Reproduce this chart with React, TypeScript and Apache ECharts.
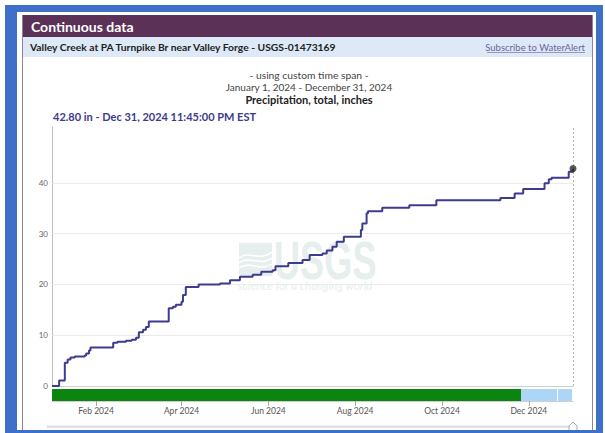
import React, { useEffect, useRef } from "react";
import * as echarts from "echarts";

// ---- data ----
const stepDates = [
  "2024-01-01", "2024-01-06", "2024-01-10", "2024-01-12", "2024-01-14", "2024-01-17",
  "2024-01-24", "2024-01-25", "2024-01-27", "2024-01-28", "2024-02-13", "2024-02-16",
  "2024-02-22", "2024-02-26", "2024-02-29", "2024-03-02", "2024-03-05", "2024-03-07",
  "2024-03-09", "2024-03-23", "2024-03-26", "2024-03-28", "2024-04-01", "2024-04-02",
  "2024-04-04", "2024-04-13", "2024-04-28", "2024-05-05", "2024-05-12", "2024-05-21",
  "2024-05-27", "2024-06-04", "2024-06-06", "2024-06-15", "2024-06-25", "2024-06-30",
  "2024-07-09", "2024-07-12", "2024-07-16", "2024-07-19", "2024-07-24", "2024-08-05",
  "2024-08-06", "2024-08-09", "2024-08-10", "2024-08-20", "2024-09-08", "2024-09-27",
  "2024-11-11", "2024-11-21", "2024-11-27", "2024-12-12", "2024-12-15", "2024-12-17",
  "2024-12-29", "2024-12-31 23:45",
];
const stepTotals = [
  0, 1.1, 4.6, 5.2, 5.6, 5.8,
  6.0, 6.4, 7.0, 7.6, 8.5, 8.7,
  8.9, 9.1, 9.5, 10.6, 11.1, 11.6,
  12.7, 15.3, 15.6, 16.0, 16.6, 17.9,
  19.5, 20.0, 20.2, 20.8, 21.5, 21.9,
  22.5, 22.8, 23.6, 24.2, 24.8, 25.8,
  26.1, 26.7, 27.4, 28.4, 29.4, 30.7,
  32.0, 34.0, 34.4, 35.1, 35.6, 36.6,
  37.0, 37.9, 38.8, 39.9, 40.7, 41.0,
  42.2, 42.8,
];
const yTickValues = [0, 10, 20, 30, 40];
const xTickDates = ["2024-02-01", "2024-04-01", "2024-06-01", "2024-08-01", "2024-10-01", "2024-12-01"];
const xTickLabels = ["Feb 2024", "Apr 2024", "Jun 2024", "Aug 2024", "Oct 2024", "Dec 2024"];
const approvalStarts = ["2024-01-01", "2024-11-25 12:00", "2024-12-21 12:00"];
const approvalEnds = ["2024-11-25 12:00", "2024-12-21 12:00", "2025-01-01"];
const approvalStatus = ["Approved", "Provisional", "Provisional"];
const rangeStart = "2024-01-01";
const rangeEnd = "2025-01-01";

const toTs = (s: string) => {
  const [d, t] = s.split(" ");
  const [y, m, dd] = d.split("-").map(Number);
  const [hh, mi] = t ? t.split(":").map(Number) : [0, 0];
  return new Date(y, m - 1, dd, hh, mi).getTime();
};

const FONT = "Lato, 'Open Sans', sans-serif";
const WM = "#e6efed";

export default function App() {
  const ref = useRef<HTMLDivElement>(null);
  useEffect(() => {
    if (!ref.current) return;
    const chart = echarts.init(ref.current, null, { renderer: "svg" });
    const lineData = stepDates.map((d, i) => [toTs(d), stepTotals[i]]);
    const last = lineData[lineData.length - 1];
    const tickTs = xTickDates.map(toTs);
    const segData = approvalStarts.map((s, i) => [toTs(s), toTs(approvalEnds[i]), approvalStatus[i]]);

    const option: any = {
      animation: false,
      backgroundColor: "#ffffff",
      textStyle: { fontFamily: FONT },
      grid: [
        { left: 52, right: 32, top: 127, height: 259, containLabel: false },
        { left: 52, right: 32, top: 389, height: 12, containLabel: false },
      ],
      xAxis: [
        {
          type: "value", gridIndex: 0, min: toTs(rangeStart), max: toTs(rangeEnd),
          axisLine: { show: true, lineStyle: { color: "#cfcfcf", width: 1 } },
          axisTick: { show: false }, axisLabel: { show: false }, splitLine: { show: false },
        },
        {
          type: "value", gridIndex: 1, min: toTs(rangeStart), max: toTs(rangeEnd),
          axisLine: { show: true, lineStyle: { color: "#cfcfcf", width: 1 } },
          axisTick: { show: true, length: 5, lineStyle: { color: "#aaa" }, customValues: tickTs },
          axisLabel: {
            show: true, customValues: tickTs, fontSize: 8.5, color: "#555", margin: 5, fontFamily: FONT,
            formatter: (v: number) => {
              const i = tickTs.findIndex((t) => Math.abs(t - v) < 86400000);
              return i >= 0 ? xTickLabels[i] : "";
            },
          },
          splitLine: { show: false },
        },
      ],
      yAxis: [
        {
          type: "value", gridIndex: 0, min: 0, max: 51,
          axisLine: { show: true, lineStyle: { color: "#bdbdbd", width: 1 } },
          axisTick: { show: false },
          axisLabel: { show: true, customValues: yTickValues, fontSize: 8, color: "#666", margin: 4, fontFamily: FONT },
          splitLine: { show: false },
        },
        {
          type: "value", gridIndex: 1, min: 0, max: 1, show: false,
        },
      ],
      series: [
        {
          type: "line", xAxisIndex: 0, yAxisIndex: 0, step: "end", symbol: "none", z: 3,
          data: lineData,
          lineStyle: { color: "#3d3b8e", width: 2 },
          markLine: {
            silent: true, symbol: ["none", "none"], label: { show: false }, z: 1,
            data: [
              ...yTickValues.filter((v) => v > 0).map((v) => ({
                yAxis: v, lineStyle: { color: "#ebebeb", type: "solid", width: 1 },
              })),
              { xAxis: last[0], lineStyle: { color: "#b5b5b5", type: [2, 2], width: 1 } },
            ],
          },
        },
        {
          type: "scatter", xAxisIndex: 0, yAxisIndex: 0, z: 4,
          data: [last], symbol: "circle", symbolSize: 7,
          itemStyle: { color: "#2b2b2b" },
        },
        {
          type: "custom", xAxisIndex: 1, yAxisIndex: 1,
          data: segData,
          encode: { x: [0, 1] },
          renderItem: (params: any, api: any) => {
            const a = api.coord([api.value(0), 1]);
            const b = api.coord([api.value(1), 0]);
            const status = segData[params.dataIndex][2];
            const approved = status === "Approved";
            return {
              type: "rect",
              shape: { x: a[0], y: a[1], width: b[0] - a[0] - (approved ? 0 : 1), height: b[1] - a[1] },
              style: { fill: approved ? "#0b850f" : "#acd5f6" },
            };
          },
        },
      ],
      graphic: [
        { type: "rect", z: 10, shape: { x: 22, y: 15, width: 571, height: 22 }, style: { fill: "#5c3157" } },
        { type: "rect", z: 10, shape: { x: 22, y: 37, width: 571, height: 20 }, style: { fill: "#dde9f6" } },
        { type: "line", z: 10, shape: { x1: 22.5, y1: 15, x2: 22.5, y2: 433 }, style: { stroke: "#8f8496", lineWidth: 1 } },
        { type: "line", z: 10, shape: { x1: 592.5, y1: 15, x2: 592.5, y2: 433 }, style: { stroke: "#8f8496", lineWidth: 1 } },
        { type: "text", z: 11, x: 31, y: 26, style: { text: "Continuous data", fill: "#ffffff", font: `bold 14px ${FONT}`, textVerticalAlign: "middle" } },
        { type: "text", z: 11, x: 30, y: 47, style: { text: "Valley Creek at PA Turnpike Br near Valley Forge - USGS-01473169", fill: "#222", font: `bold 10.3px ${FONT}`, textVerticalAlign: "middle" } },
        { type: "text", z: 11, x: 585, y: 47, style: { text: "Subscribe to WaterAlert", fill: "#6f5fa0", font: `9.5px ${FONT}`, textAlign: "right", textVerticalAlign: "middle" } },
        { type: "line", z: 11, shape: { x1: 487, y1: 52.5, x2: 585, y2: 52.5 }, style: { stroke: "#8a7cb5", lineWidth: 0.8 } },
        { type: "text", z: 11, x: 309, y: 75, style: { text: "- using custom time span -", fill: "#444", font: `10.3px ${FONT}`, textAlign: "center", textVerticalAlign: "middle" } },
        { type: "text", z: 11, x: 309, y: 87, style: { text: "January 1, 2024 - December 31, 2024", fill: "#444", font: `10px ${FONT}`, textAlign: "center", textVerticalAlign: "middle" } },
        { type: "text", z: 11, x: 309, y: 99, style: { text: "Precipitation, total, inches", fill: "#222", font: `bold 11px ${FONT}`, textAlign: "center", textVerticalAlign: "middle" } },
        { type: "text", z: 11, x: 53, y: 116, style: { text: "42.80 in - Dec 31, 2024 11:45:00 PM EST", fill: "#3d3b8e", font: `bold 11px ${FONT}`, textVerticalAlign: "middle" } },
        { type: "rect", z: 0, shape: { x: 239, y: 243, width: 33, height: 33 }, style: { fill: WM } },
        { type: "bezierCurve", z: 0, shape: { x1: 239, y1: 258, x2: 272, y2: 252, cpx1: 250, cpy1: 250, cpx2: 260, cpy2: 262 }, style: { stroke: "#fff", lineWidth: 1.5, fill: null } },
        { type: "bezierCurve", z: 0, shape: { x1: 239, y1: 263, x2: 272, y2: 258, cpx1: 250, cpy1: 255, cpx2: 260, cpy2: 267 }, style: { stroke: "#fff", lineWidth: 1.5, fill: null } },
        { type: "bezierCurve", z: 0, shape: { x1: 239, y1: 268, x2: 272, y2: 264, cpx1: 250, cpy1: 260, cpx2: 260, cpy2: 272 }, style: { stroke: "#fff", lineWidth: 1.5, fill: null } },
        {
          type: "group", x: 274, y: 260, scaleX: 0.67, z: 0,
          children: [
            { type: "text", z: 0, x: 0, y: 0, style: { text: "USGS", fill: WM, font: `bold 54px 'Liberation Sans', sans-serif`, textVerticalAlign: "middle" } },
          ],
        },
        { type: "text", z: 0, x: 238, y: 285, style: { text: "science for a changing world", fill: WM, font: `italic 11.5px ${FONT}`, textVerticalAlign: "middle" } },
        { type: "rect", z: 10, shape: { x: 47, y: 425.5, width: 526, height: 2.5 }, style: { fill: "#e0e0e0" } },
        { type: "polygon", z: 11, shape: { points: [[569, 432], [569, 426], [573, 422], [577, 426], [577, 432]] }, style: { fill: "#fff", stroke: "#aaa", lineWidth: 1 } },
        { type: "rect", z: 100, shape: { x: 6, y: 5, width: 597, height: 7 }, style: { fill: "#3f70c9" } },
        { type: "rect", z: 100, shape: { x: 5, y: 5, width: 12, height: 428 }, style: { fill: "#3f70c9" } },
        { type: "rect", z: 100, shape: { x: 596, y: 5, width: 7, height: 428 }, style: { fill: "#3f70c9" } },
        { type: "rect", z: 100, shape: { x: 5, y: 430, width: 598, height: 3 }, style: { fill: "#3f70c9" } },
      ],
    };
    chart.setOption(option);
    return () => chart.dispose();
  }, []);
  return <div ref={ref} style={{ position: "fixed", left: 0, top: 0, width: 605, height: 433 }} />;
}
